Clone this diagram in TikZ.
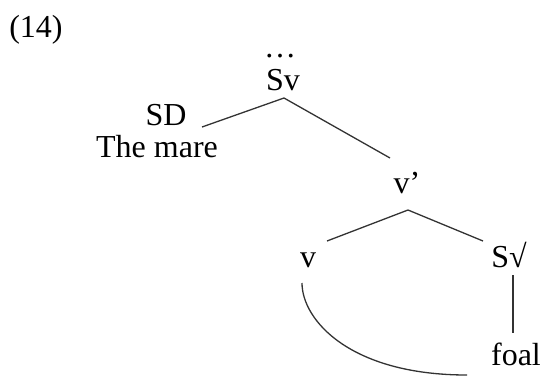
\documentclass[tikz,border=0pt]{standalone}
\usepackage{fontspec}
\setmainfont{Liberation Serif}

\begin{document}
\begin{tikzpicture}[
  x=0.5pt, y=-0.5pt,
  lbl/.style={inner sep=0pt, anchor=base, font=\fontsize{16pt}{19pt}\selectfont},
  branch/.style={draw=black!80, line width=0.65pt},
]
\useasboundingbox (0,0) rectangle (546,376);
\node[lbl] (ex) at (36,37) {(14)};
\node[lbl] (dots) at (280,57) {…};
\node[lbl] (sv) at (283,90) {Sv};
\node[lbl] (sd) at (166,125) {SD};
\node[lbl] (mare) at (157,157) {The mare};
\node[lbl] (vbar) at (407,193) {v’};
\node[lbl] (v) at (308,267) {v};
\node[lbl] (sroot) at (509,267) {S√};
\node[lbl] (foal) at (516,365) {foal};

\draw[branch] ([shift={(18pt,-1pt)}]sd.base) -- ([shift={(0.5pt,-4pt)}]sv.base) -- ([shift={(-8.5pt,17.5pt)}]vbar.base);
\draw[branch] ([shift={(9.5pt,13pt)}]v.base) -- ([shift={(0.5pt,-8.5pt)}]vbar.base) -- ([shift={(-13pt,13pt)}]sroot.base);
\draw[branch] ([shift={(2pt,-4pt)}]sroot.base) -- ([shift={(-1.5pt,16pt)}]foal.base);
\draw[branch] ([shift={(-3pt,-8pt)}]v.base) .. controls +(0,-18.5pt) and +(-58.5pt,0pt) .. ([shift={(-24.5pt,-5pt)}]foal.base);
\end{tikzpicture}
\end{document}
